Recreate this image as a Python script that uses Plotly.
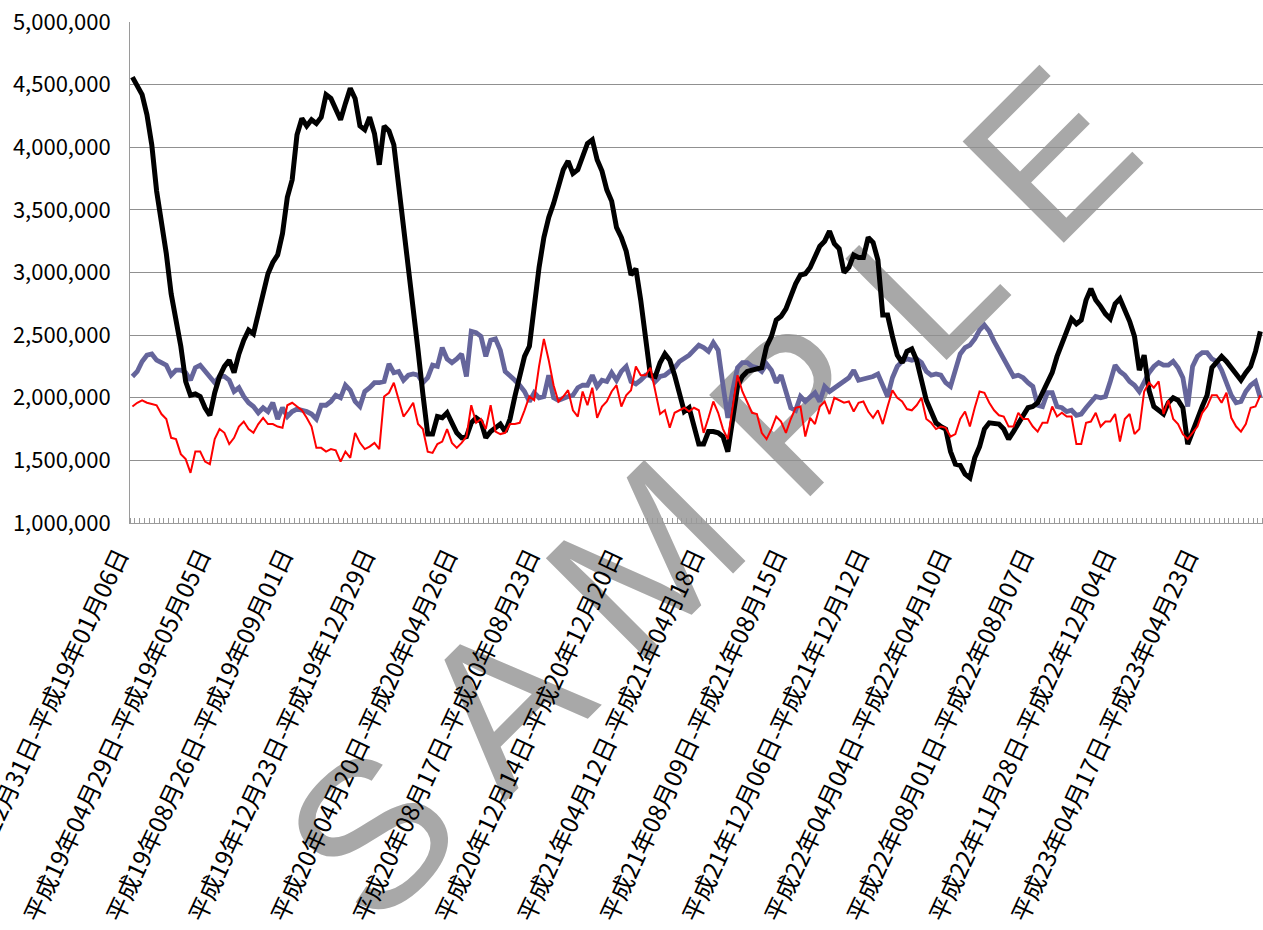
import plotly.graph_objects as go

# Tick labels (every 17th week)
tick_labels = [
    "平成18年12月31日-平成19年01月06日",
    "平成19年04月29日-平成19年05月05日",
    "平成19年08月26日-平成19年09月01日",
    "平成19年12月23日-平成19年12月29日",
    "平成20年04月20日-平成20年04月26日",
    "平成20年08月17日-平成20年08月23日",
    "平成20年12月14日-平成20年12月20日",
    "平成21年04月12日-平成21年04月18日",
    "平成21年08月09日-平成21年08月15日",
    "平成21年12月06日-平成21年12月12日",
    "平成22年04月04日-平成22年04月10日",
    "平成22年08月01日-平成22年08月07日",
    "平成22年11月28日-平成22年12月04日",
    "平成23年04月17日-平成23年04月23日",
]
tick_positions = [0, 17, 34, 51, 68, 85, 102, 119, 136, 153, 170, 187, 204, 221]

# Weekly values, millions
black_m = [
    4.56, 4.49, 4.42, 4.26, 4.02, 3.65, 3.41, 3.15, 2.83, 2.62,
    2.41, 2.13, 2.02, 2.03, 2.01, 1.92, 1.86, 2.04, 2.17, 2.25,
    2.30, 2.20, 2.35, 2.46, 2.54, 2.51, 2.67, 2.86, 2.99, 3.08,
    3.14, 3.31, 3.60, 3.74, 4.10, 4.23, 4.17, 4.22, 4.19, 4.24,
    4.42, 4.39, 4.30, 4.22, 4.35, 4.47, 4.39, 4.17, 4.14, 4.24,
    4.11, 3.86, 4.17, 4.13, 4.02, 3.70, 3.42, 3.05, 2.70, 2.38,
    2.03, 1.71, 1.71, 1.85, 1.84, 1.88, 1.80, 1.72, 1.68, 1.69,
    1.80, 1.84, 1.81, 1.68, 1.73, 1.76, 1.79, 1.73, 1.83, 2.01,
    2.17, 2.33, 2.41, 2.73, 3.04, 3.28, 3.44, 3.55, 3.68, 3.82,
    3.89, 3.79, 3.82, 3.92, 4.03, 4.06, 3.90, 3.81, 3.66, 3.57,
    3.36, 3.28, 3.17, 2.98, 3.03, 2.78, 2.49, 2.18, 2.17, 2.28,
    2.35, 2.30, 2.18, 2.04, 1.89, 1.92, 1.78, 1.63, 1.63, 1.73,
    1.73, 1.72, 1.69, 1.57, 1.83, 2.09, 2.17, 2.21, 2.22, 2.23,
    2.24, 2.41, 2.49, 2.62, 2.65, 2.71, 2.82, 2.91, 2.98, 2.99,
    3.04, 3.12, 3.21, 3.25, 3.33, 3.23, 3.19, 3.00, 3.04, 3.14,
    3.12, 3.12, 3.28, 3.24, 3.10, 2.66, 2.66, 2.49, 2.34, 2.28,
    2.37, 2.39, 2.30, 2.14, 1.98, 1.89, 1.80, 1.77, 1.75, 1.57,
    1.47, 1.46, 1.39, 1.36, 1.52, 1.61, 1.75, 1.80, 1.80, 1.79,
    1.75, 1.67, 1.73, 1.79, 1.85, 1.92, 1.93, 1.96, 2.04, 2.13,
    2.20, 2.33, 2.42, 2.53, 2.63, 2.59, 2.62, 2.78, 2.87, 2.78,
    2.73, 2.67, 2.63, 2.75, 2.79, 2.70, 2.61, 2.49, 2.22, 2.34,
    2.06, 1.93, 1.90, 1.87, 1.96, 2.00, 1.98, 1.92, 1.63, 1.72,
    1.83, 1.93, 2.02, 2.24, 2.28, 2.33, 2.29, 2.24, 2.20, 2.14,
    2.20, 2.25, 2.37, 2.53,
]

blue_m = [
    2.17, 2.21, 2.29, 2.34, 2.35, 2.30, 2.28, 2.26, 2.18, 2.22,
    2.22, 2.20, 2.14, 2.24, 2.26, 2.21, 2.16, 2.12, 2.17, 2.17,
    2.14, 2.05, 2.08, 2.01, 1.96, 1.93, 1.88, 1.92, 1.89, 1.96,
    1.83, 1.92, 1.85, 1.89, 1.91, 1.90, 1.89, 1.87, 1.83, 1.94,
    1.94, 1.97, 2.02, 2.00, 2.10, 2.06, 1.97, 1.93, 2.05, 2.08,
    2.12, 2.12, 2.13, 2.27, 2.20, 2.21, 2.14, 2.18, 2.19, 2.18,
    2.12, 2.16, 2.26, 2.25, 2.40, 2.31, 2.28, 2.31, 2.35, 2.17,
    2.53, 2.52, 2.49, 2.33, 2.46, 2.47, 2.38, 2.21, 2.18, 2.14,
    2.10, 2.05, 1.97, 2.04, 2.00, 2.01, 2.18, 2.00, 1.98, 2.00,
    2.01, 2.02, 2.08, 2.10, 2.10, 2.18, 2.09, 2.14, 2.13, 2.20,
    2.14, 2.21, 2.25, 2.13, 2.11, 2.14, 2.18, 2.18, 2.13, 2.17,
    2.18, 2.21, 2.24, 2.29, 2.31, 2.34, 2.38, 2.42, 2.40, 2.37,
    2.44, 2.38, 2.10, 1.84, 2.06, 2.24, 2.28, 2.28, 2.25, 2.24,
    2.21, 2.27, 2.22, 2.12, 2.18, 2.04, 1.92, 1.90, 2.01, 1.97,
    2.01, 2.04, 1.97, 2.09, 2.05, 2.08, 2.10, 2.14, 2.16, 2.22,
    2.14, 2.15, 2.16, 2.17, 2.19, 2.10, 2.01, 2.16, 2.25, 2.29,
    2.31, 2.30, 2.31, 2.28, 2.21, 2.18, 2.19, 2.18, 2.12, 2.09,
    2.21, 2.35, 2.40, 2.42, 2.47, 2.54, 2.58, 2.53, 2.45, 2.38,
    2.31, 2.25, 2.17, 2.18, 2.16, 2.12, 2.09, 1.94, 1.93, 2.04,
    2.04, 1.93, 1.92, 1.89, 1.90, 1.86, 1.87, 1.92, 1.97, 2.01,
    2.00, 2.01, 2.13, 2.26, 2.21, 2.18, 2.13, 2.10, 2.05, 2.13,
    2.20, 2.25, 2.28, 2.26, 2.26, 2.29, 2.24, 2.16, 1.93, 2.25,
    2.33, 2.36, 2.36, 2.31, 2.29, 2.22, 2.13, 2.02, 1.96, 1.97,
    2.05, 2.10, 2.13, 2.00,
]

red_m = [
    1.93, 1.96, 1.98, 1.96, 1.95, 1.94, 1.87, 1.83, 1.68, 1.67,
    1.55, 1.51, 1.40, 1.57, 1.57, 1.49, 1.47, 1.67, 1.75, 1.72,
    1.63, 1.68, 1.77, 1.81, 1.75, 1.72, 1.79, 1.84, 1.79, 1.79,
    1.77, 1.76, 1.94, 1.96, 1.93, 1.90, 1.84, 1.77, 1.60, 1.60,
    1.57, 1.59, 1.58, 1.49, 1.57, 1.52, 1.72, 1.64, 1.59, 1.61,
    1.64, 1.59, 2.01, 2.04, 2.12, 1.98, 1.85, 1.90, 1.96, 1.79,
    1.75, 1.57, 1.56, 1.63, 1.65, 1.75, 1.64, 1.60, 1.64, 1.69,
    1.94, 1.80, 1.83, 1.75, 1.94, 1.73, 1.71, 1.72, 1.79, 1.79,
    1.80, 1.90, 2.01, 1.98, 2.25, 2.47, 2.30, 2.10, 1.97, 2.01,
    2.06, 1.90, 1.85, 2.05, 1.94, 2.08, 1.84, 1.93, 1.97, 2.05,
    2.10, 1.93, 2.02, 2.06, 2.25, 2.18, 2.18, 2.24, 2.06, 1.87,
    1.90, 1.76, 1.88, 1.90, 1.92, 1.89, 1.92, 1.90, 1.72, 1.84,
    1.97, 1.88, 1.75, 1.67, 1.93, 2.18, 2.05, 1.96, 1.88, 1.87,
    1.72, 1.67, 1.75, 1.85, 1.81, 1.72, 1.83, 1.92, 1.93, 1.69,
    1.84, 1.79, 1.93, 1.97, 1.87, 2.00, 1.98, 1.96, 1.97, 1.89,
    1.96, 1.97, 1.89, 1.84, 1.90, 1.79, 1.93, 2.06, 2.00, 1.97,
    1.91, 1.90, 1.94, 2.00, 1.83, 1.80, 1.75, 1.77, 1.76, 1.69,
    1.71, 1.83, 1.89, 1.77, 1.92, 2.05, 2.04, 1.96, 1.90, 1.86,
    1.85, 1.77, 1.77, 1.88, 1.83, 1.83, 1.77, 1.73, 1.80, 1.80,
    1.93, 1.85, 1.88, 1.85, 1.85, 1.63, 1.63, 1.80, 1.81, 1.88,
    1.77, 1.81, 1.81, 1.87, 1.65, 1.83, 1.87, 1.71, 1.75, 2.05,
    2.12, 2.08, 2.13, 1.87, 1.98, 1.83, 1.79, 1.71, 1.67, 1.72,
    1.77, 1.88, 1.93, 2.02, 2.02, 1.96, 2.04, 1.84, 1.77, 1.73,
    1.79, 1.92, 1.93, 2.02,
]

MILLION = 1_000_000

fig = go.Figure()


def add_series(vals, color, width):
    fig.add_trace(go.Scatter(
        x=list(range(len(vals))),
        y=[v * MILLION for v in vals],
        mode="lines",
        line=dict(color=color, width=width),
        hoverinfo="skip",
    ))


add_series(blue_m, "#65659b", 4.8)
add_series(black_m, "#000000", 5)
add_series(red_m, "#ff0000", 2)

font_jp = "Noto Sans CJK JP"

fig.update_layout(
    width=1263,
    height=930,
    margin=dict(l=130, r=0, t=22, b=407, autoexpand=False),
    paper_bgcolor="white",
    plot_bgcolor="white",
    showlegend=False,
    font=dict(family=font_jp, color="black"),
)

fig.update_xaxes(
    automargin=False,
    range=[-0.5, 233.55],
    tickmode="array",
    tickvals=tick_positions,
    ticktext=tick_labels,
    tickangle=-65,
    tickfont=dict(size=24, family=font_jp, color="black"),
    ticklabeloverflow="allow",
    ticklabelshift=-14,
    ticklabelstandoff=8,
    ticks="",
    showgrid=False,
    zeroline=False,
    showline=True,
    linecolor="#9a9a9a",
    linewidth=1,
    minor=dict(tickmode="linear", tick0=-0.5, dtick=1, ticks="inside",
               ticklen=5, tickcolor="#9a9a9a", tickwidth=1, showgrid=False),
)

fig.update_yaxes(
    automargin=False,
    range=[1_000_000, 5_000_000],
    dtick=500_000,
    tickformat=",d",
    tickfont=dict(size=22, family=font_jp, color="black"),
    ticks="",
    ticklabelstandoff=14,
    showgrid=True,
    gridcolor="#909090",
    gridwidth=1,
    zeroline=False,
    showline=True,
    linecolor="#9a9a9a",
    linewidth=1,
)

# Watermark, behind the plot content
fig.add_shape(
    type="rect", xref="paper", yref="paper",
    x0=0.495, x1=0.505, y0=0.081, y1=0.091,
    line=dict(width=0), fillcolor="rgba(0,0,0,0)",
    layer="below",
    label=dict(text="S A M P L E", textangle=-45, textposition="middle center",
               font=dict(size=208, color="#a8a8a8", family="Liberation Sans")),
)

fig.write_html(
    "out.html",
    config={"displayModeBar": False},
    post_script="document.body.style.margin='0';document.body.style.padding='0';",
)
